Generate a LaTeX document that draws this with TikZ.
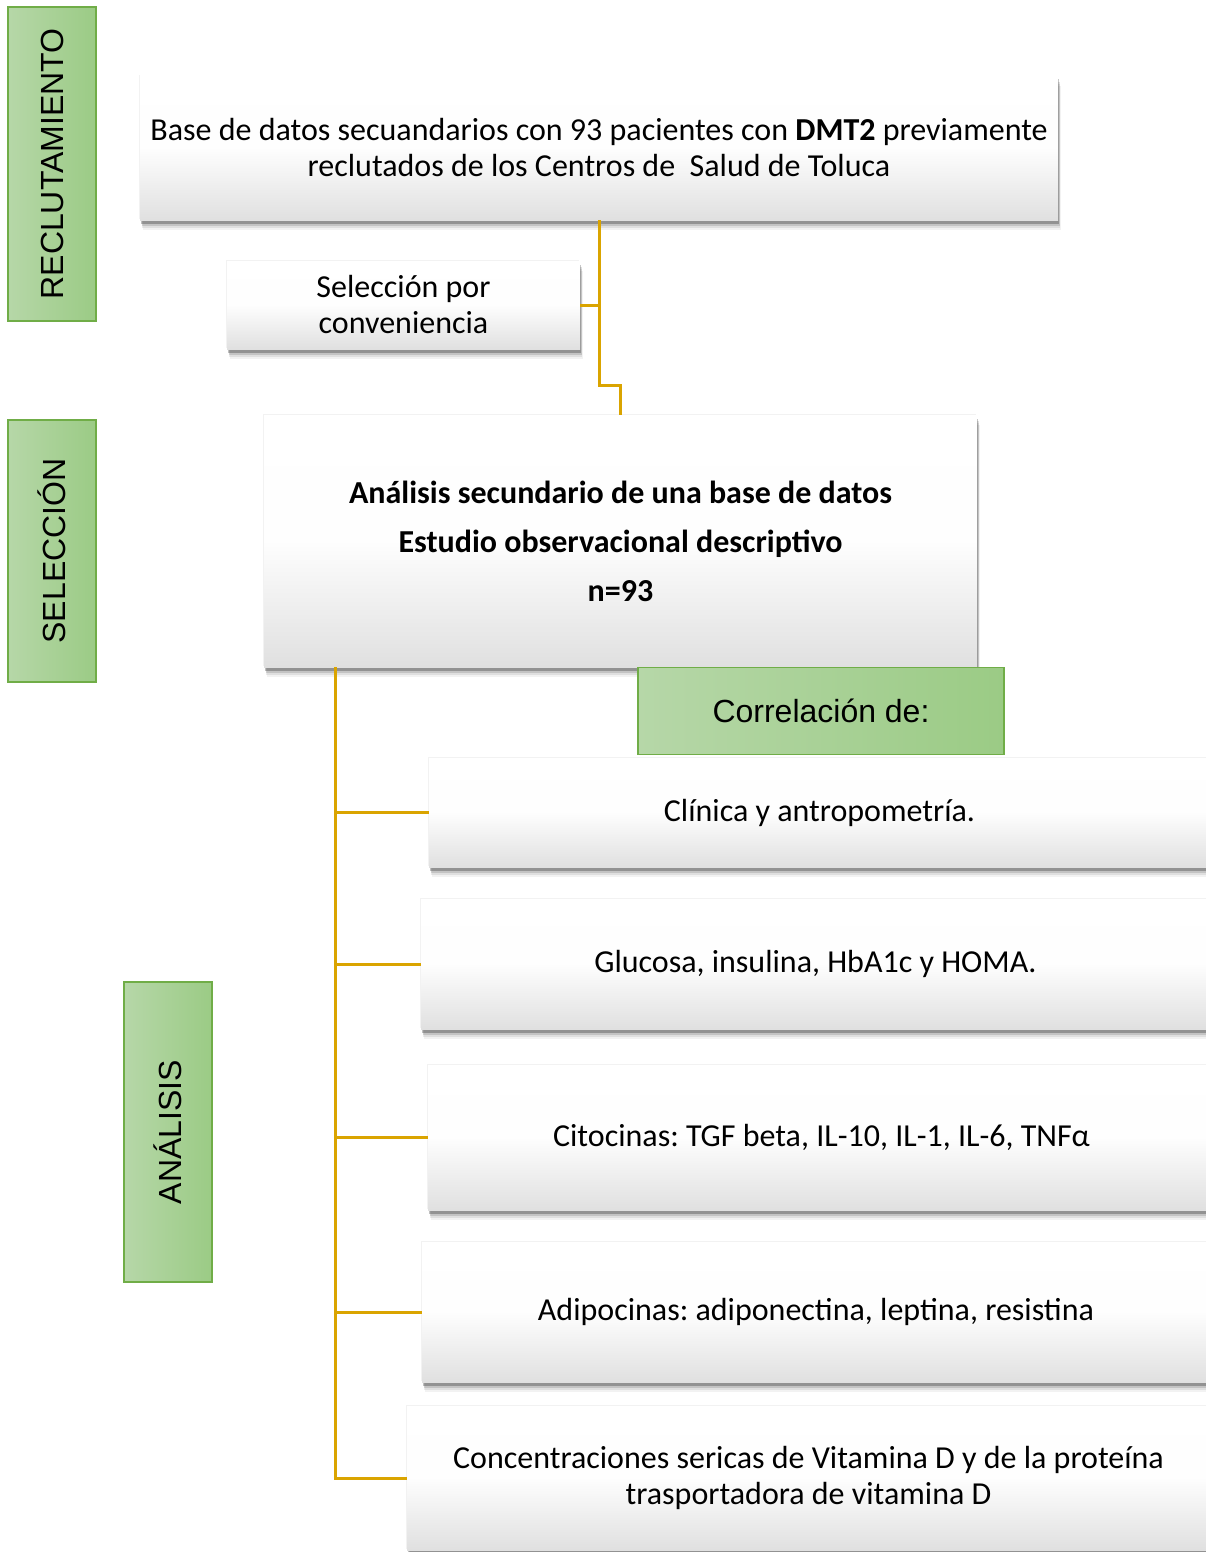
\documentclass[tikz,border=0pt]{standalone}
\usepackage{fontspec}
\setmainfont{Carlito}
\newfontfamily\labelfont{Liberation Sans}
\usetikzlibrary{calc}
\definecolor{conn}{RGB}{218,164,0}
\definecolor{gleft}{RGB}{182,215,168}
\definecolor{gright}{RGB}{155,203,133}
\definecolor{gborder}{RGB}{112,173,71}
\definecolor{boxbot}{RGB}{224,224,224}
\tikzset{
  softshadow/.style={
    preaction={fill=black, fill opacity=0.05, transform canvas={xshift=2.5pt,yshift=-10pt}},
    preaction={fill=black, fill opacity=0.08, transform canvas={xshift=2pt,yshift=-8pt}},
    preaction={fill=black, fill opacity=0.12, transform canvas={xshift=1.5pt,yshift=-6pt}},
    preaction={fill=black, fill opacity=0.25, transform canvas={xshift=1pt,yshift=-3.5pt}},
    preaction={fill=black, fill opacity=0.05, transform canvas={xshift=-1.5pt,yshift=1pt}}},
  whitebox/.style={rectangle, inner sep=0pt, align=center, text=black, softshadow,
    top color=white, bottom color=boxbot, middle color=white!96!boxbot,
    font=\fontsize{32}{36}\selectfont},
  greenbox/.style={rectangle, inner sep=0pt, align=center, text=black,
    left color=gleft, right color=gright, draw=gborder, line width=1.2pt,
    font=\labelfont\fontsize{32}{36}\selectfont},
  connector/.style={draw=conn, line width=3pt}
}
\begin{document}
\frenchspacing
\begin{tikzpicture}[x=1pt,y=-1pt]
\useasboundingbox (0,0) rectangle (1206,1552);
\clip (0,0) rectangle (1206,1552);
\fill[white] (0,0) rectangle (1206,1552);

% side labels
\node[greenbox, minimum width=88pt, minimum height=314pt] (lrec) at (52,164) {};
\node[font=\labelfont\fontsize{32}{36}\selectfont, rotate=90] (lrect) at (lrec.center) {RECLUTAMIENTO};
\node[greenbox, minimum width=88pt, minimum height=262pt] (lsel) at (52,551) {};
\node[font=\labelfont\fontsize{32}{36}\selectfont, rotate=90] (lselt) at (lsel.center) {SELECCIÓN};
\node[greenbox, minimum width=88pt, minimum height=300pt] (lana) at (168,1132) {};
\node[font=\labelfont\fontsize{32}{36}\selectfont, rotate=90] (lanat) at (lana.center) {ANÁLISIS};

\coordinate (j1) at (599,385);
\coordinate (t0) at (335,667);

% boxes
\node[whitebox, minimum width=918pt, minimum height=144pt] (b1) at (599,148)
  {Base de datos secuandarios con 93 pacientes con \textbf{DMT2} previamente\\reclutados de los Centros de\ \ Salud de Toluca};
\node[whitebox, minimum width=353pt, minimum height=88pt] (sel) at (403.5,305)
  {Selección por\\conveniencia};
\node[whitebox, minimum width=713pt, minimum height=252pt, font=\bfseries\fontsize{32}{49}\selectfont] (main) at (620.5,541)
  {Análisis secundario de una base de datos\\Estudio observacional descriptivo\\n=93};

\draw[connector] (b1.south) -- (j1) -| (main.north);
\draw[connector] (sel.east) -- (sel.east -| b1.south);

\node[whitebox, minimum width=781pt, minimum height=109pt] (c1) at (819.5,812.5) {Clínica y antropometría.};
\node[whitebox, minimum width=789pt, minimum height=130pt] (c2) at (815.5,964) {Glucosa, insulina, HbA1c y HOMA.};
\node[whitebox, minimum width=787pt, minimum height=145pt] (c3) at (821.5,1137.5) {Citocinas: TGF beta, IL-10, IL-1, IL-6, TNFα};
\node[whitebox, minimum width=788pt, minimum height=140pt] (c4) at (816,1312) {Adipocinas: adiponectina, leptina, resistina};
\node[whitebox, minimum width=803pt, minimum height=144pt] (c5) at (808.5,1478)
  {Concentraciones sericas de Vitamina D y de la proteína\\trasportadora de vitamina D};

\draw[connector] (t0) |- (c5.west);
\draw[connector] (c1.west -| t0) -- (c1.west);
\draw[connector] (c2.west -| t0) -- (c2.west);
\draw[connector] (c3.west -| t0) -- (c3.west);
\draw[connector] (c4.west -| t0) -- (c4.west);

\node[greenbox, minimum width=366pt, minimum height=87pt] (corr) at (821,711) {Correlación de:};
\end{tikzpicture}
\end{document}
